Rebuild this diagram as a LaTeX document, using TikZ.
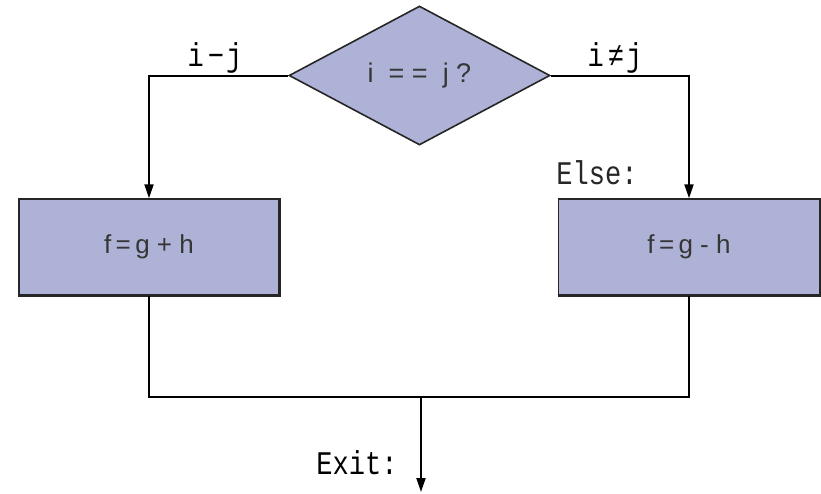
\documentclass[tikz,border=0pt]{standalone}
\usepackage{fontspec}
\setmainfont{Liberation Sans}
\newfontfamily\labelfont[FakeStretch=0.82]{Liberation Mono}
\usetikzlibrary{shapes.geometric,arrows.meta}
\definecolor{boxfill}{HTML}{AEB2D6}
\definecolor{boxtext}{HTML}{363636}
\tikzset{
  procbox/.style={draw=black!85, line width=1.4pt, fill=boxfill, minimum width=260pt, minimum height=96pt, inner sep=0pt, text=boxtext, font=\fontsize{26}{30}\selectfont},
  decbox/.style={diamond, draw=black!85, line width=1.6pt, fill=boxfill, minimum width=261pt, minimum height=139pt, inner sep=0pt, text=boxtext, font=\fontsize{27}{30}\selectfont},
  shadowedge/.style={line width=2.6pt, draw=black!85},
  conn/.style={line width=2pt, draw=black},
  arrowconn/.style={conn, -{Triangle[length=14pt,width=9pt]}},
  lbl/.style={inner sep=0pt, font=\labelfont\fontsize{33}{35}\selectfont}
}
\begin{document}
\begin{tikzpicture}[x=1pt,y=-1pt]
\useasboundingbox (0,0) rectangle (821,493);
\node[decbox] (dec) at (419.5,75.5) {\raisebox{-3pt}{i~~=~=~~j~?}};
\node[procbox] (lbox) at (149,247) {f\,=\,g + h};
\node[procbox, minimum width=261pt] (rbox) at (689,247) {f\,=\,g - h};
\draw[shadowedge] (lbox.south west) -- (lbox.south east) -- (lbox.north east);
\draw[shadowedge] (rbox.south west) -- (rbox.south east) -- (rbox.north east);
\coordinate (join) at (421,397);
\coordinate (exitend) at (421,492);
\draw[arrowconn] (dec.west) -| (lbox.north);
\draw[arrowconn] (dec.east) -| (rbox.north);
\draw[conn] (lbox.south) |- (join) -| (rbox.south);
\draw[arrowconn] (join) -- (exitend);
\node[lbl] (eqlbl) at (215,58) {i\hspace{4pt}−\hspace{2pt}j};
\node[lbl] (nelbl) at (615,58) {i\hspace{4pt}≠\hspace{2pt}j};
\node[lbl, text=black!85] (elselbl) at (597,173) {Else:};
\node[lbl] (exitlbl) at (357,463) {Exit:};
\end{tikzpicture}
\end{document}
